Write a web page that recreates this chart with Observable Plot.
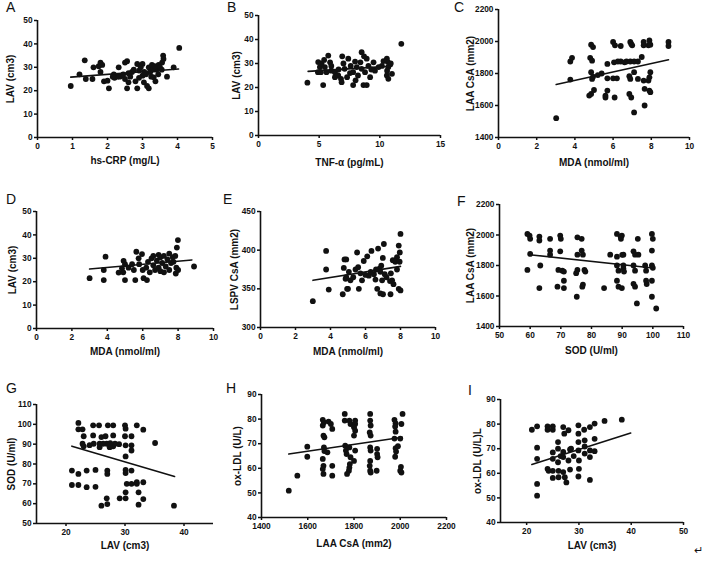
<!DOCTYPE html>
<html><head><meta charset="utf-8">
<script src="https://cdn.jsdelivr.net/npm/d3@7"></script>
<script src="https://cdn.jsdelivr.net/npm/@observablehq/plot@0.6"></script>
<style>
body{margin:0;background:#fff;}
#wrap{position:relative;width:709px;height:562px;overflow:hidden;background:#fff;font-family:"Liberation Sans",Arial,sans-serif;}
.letter{position:absolute;font-size:14px;line-height:14px;color:#111;}
svg{position:absolute;}
</style></head><body><div id="wrap"></div>
<script>
// ---------- data ----------
const panelA = [[0.95,22],[1.2,27],[1.35,33],[1.38,25],[1.57,25],[1.6,30],[1.8,32],[1.85,31],[1.9,24],[2.04,21],[1.8,28],[2.18,27],[2.28,26],[2.32,30],[2.42,26.4],[2.5,25],[2.56,32.6],[2.56,21],[2.6,23.6],[2.7,28],[2.8,24],[2.85,31.4],[2.85,21],[2.9,28.6],[3.0,31.4],[3.0,26.4],[3.04,23.6],[3.13,22],[3.18,21],[3.18,30],[3.22,28],[3.27,31],[3.32,25.7],[3.37,24],[3.4,29],[3.46,31],[3.56,32],[3.59,35],[3.6,33.6],[3.7,26],[3.89,30],[4.05,38.3],[2.0,24.3],[2.2,25.5],[2.35,26],[2.45,27],[2.65,26],[2.75,29],[2.95,30],[3.1,27],[3.25,26],[3.3,29],[3.45,27],[3.5,30],[2.9,25.5],[3.05,28],[2.15,26],[2.6,27.5],[1.75,30.5],[2.5,32],[3.35,30.5],[3.55,29]];
const panelB = [[4.03,22],[4.92,30.6],[5.06,28.5],[5.14,26.4],[5.33,21],[5.41,31.5],[5.75,33.3],[5.47,28.5],[5.6,26.4],[6.0,27],[6.3,26.4],[6.57,25],[6.8,23.6],[6.85,22.2],[6.9,33],[7.0,30],[7.1,27.8],[7.4,32],[7.54,26],[7.8,21],[7.96,30.8],[8.1,28.5],[8.2,25],[8.5,34.7],[8.65,21],[8.78,26.4],[8.92,32],[8.92,21],[9.06,29],[9.2,24.3],[9.48,30.5],[9.6,27],[10.17,29],[10.58,32],[10.66,30.6],[10.7,28.5],[10.58,25],[10.7,23.6],[11.0,25.7],[11.77,38.2],[4.9,26.4],[6.3,24.3],[7.3,24.3],[7.8,26.4],[8.4,30.5],[8.5,27.8],[9.9,28.5],[10.6,27],[5.2,30],[5.9,30.5],[6.6,27.5],[7.6,29],[8.7,33],[9.3,27.5],[10.3,31],[10.9,30],[8.0,23],[6.0,29]];
const panelC = [[3.02,1521],[3.76,1875],[3.85,1898],[3.76,1762],[4.85,1980],[4.95,1965],[4.8,1898],[4.9,1880],[4.85,1808],[4.9,1766],[4.75,1662],[4.85,1672],[5.0,1697],[4.95,1780],[5.4,1800],[5.2,1790],[5.7,1860],[5.7,1770],[5.7,1693],[5.6,1662],[5.6,1650],[6.0,1997],[6.1,1976],[6.05,1870],[6.0,1770],[6.08,1650],[6.2,1770],[6.4,1972],[6.4,1875],[6.25,1875],[6.7,1875],[6.6,1870],[6.9,1997],[6.95,1985],[7.0,1976],[6.9,1875],[6.85,1783],[6.9,1766],[6.85,1672],[6.95,1650],[7.1,1557],[7.1,1808],[7.1,1875],[7.3,1875],[7.3,1766],[7.5,1903],[7.6,1997],[7.6,1976],[7.6,1756],[7.65,1704],[7.65,1600],[7.9,2007],[7.85,1976],[7.95,1808],[7.9,1776],[7.85,1756],[7.9,1693],[7.95,1683],[7.95,1980],[8.9,1997],[8.9,1972]];
const panelD = [[3.0,21.5],[3.9,30.7],[3.8,25],[3.8,20.7],[4.64,23.9],[4.83,25.7],[4.92,28.9],[5.0,27.5],[5.0,20.7],[5.2,26],[5.4,27.5],[5.58,20.7],[5.64,32.8],[5.77,30],[5.8,27.5],[6.0,25],[6.05,21.5],[6.24,20.7],[5.96,31.8],[6.3,28.5],[6.5,30],[6.6,27],[6.7,25],[6.8,29],[6.9,31.5],[6.9,26],[7.0,30.5],[7.0,24.5],[7.1,28],[7.2,31],[7.3,26.5],[7.4,29.5],[7.5,32],[7.5,25],[7.6,28],[7.7,30.5],[7.74,28.5],[7.84,31],[7.93,34.6],[7.99,37.8],[7.87,23.5],[7.9,26],[8.0,25],[8.9,26.5],[6.2,26],[6.4,24],[5.5,25],[4.9,24],[6.6,31],[7.2,24]];
const panelE = [[2.99,334],[3.75,399],[3.75,375],[3.9,349],[4.7,343],[4.76,377],[4.8,388],[4.9,388],[4.86,363],[4.95,350],[5.05,372],[5.14,361],[5.43,375],[5.52,397],[5.58,378],[5.62,350],[5.71,370],[5.8,361],[5.9,386],[6.1,392],[6.19,367],[6.34,399],[6.48,369],[6.57,362],[6.67,350],[6.72,402],[6.8,376],[6.85,372],[6.95,361],[6.99,390],[7.05,408],[7.0,343],[7.1,369],[7.43,343],[7.45,370],[7.52,361],[7.56,387],[7.6,356],[7.8,391],[7.8,375],[7.9,406],[8.0,421],[7.96,397],[7.9,350],[8.0,348],[5.0,350],[6.0,368],[6.3,372],[6.9,380],[7.2,365],[7.7,385],[5.3,365],[6.6,375],[4.9,365],[7.95,385],[6.85,344],[7.4,360]];
const panelF = [[59.1,2007],[59.8,1996],[60,1975],[59.1,1771],[60,1876],[63,1990],[63,1964],[63.3,1800],[63,1652],[66.5,1975],[66.5,1898],[66.5,1871],[68.9,1661],[69.2,1771],[69.8,1996],[70,1975],[69.8,1893],[70.5,1766],[71,1760],[71,1700],[71,1652],[75.2,1595],[75.4,1985],[75.4,1871],[75.4,1771],[75,1750],[76.8,1975],[76.8,1898],[77.2,1871],[77,1661],[77.2,1675],[77.7,1771],[78,1760],[84.1,1652],[86.1,1871],[88.3,2007],[89.9,1996],[89.6,1975],[88.3,1858],[90.4,1871],[90.4,1800],[88.3,1800],[88.8,1766],[90.4,1780],[88.3,1700],[88.8,1661],[89.9,1652],[90.6,1760],[89.5,1990],[90,1870],[93.7,1893],[94.2,1871],[93.7,1800],[94.2,1766],[93.7,1680],[94.2,1661],[95.1,1975],[94.8,1551],[95.3,1871],[97.5,1800],[97.8,1766],[98,1678],[97.8,1700],[99.7,2007],[100,1975],[99.7,1898],[99.7,1800],[100,1785],[99.7,1700],[99.7,1595],[101.1,1518]];
const panelG = [[21,76.7],[21,69.4],[22.1,69.4],[22.1,75],[22.1,100.7],[22.1,97.5],[22.8,97.5],[23,94],[22.8,90.2],[23,88.9],[23.5,76.7],[23.5,68.3],[24.6,99.5],[24.6,94.4],[24.7,90.2],[25.6,99.5],[25.7,90.2],[25.7,88.5],[26,93.6],[26.7,94],[26.9,90.2],[27.4,88.5],[27.1,99.5],[28,99.5],[28,94.4],[27.7,88.9],[27,76.7],[27,75],[26.9,62.7],[27,59.8],[26,59],[28,88.9],[26.3,90.2],[28.3,90.2],[30,99.5],[30.1,97.8],[30,94],[30.1,89.4],[30.1,83.8],[30.1,77],[30.1,75.4],[30.3,70],[30.1,65.7],[30.1,62.7],[29.1,62.7],[31.1,94],[31.1,89.4],[31.1,86.8],[31.1,76.7],[31.1,70],[32,99.5],[32,70],[32.3,65.7],[32.3,59.5],[32,70.8],[33.1,97.3],[33.1,70.8],[33.1,62.3],[35.1,90.6],[38.3,59],[25,77],[25,68.5],[24,89.5],[29,90],[27.5,90.5]];
const panelH = [[1518,50.9],[1555,57],[1598,68.8],[1598,64.7],[1665,79.7],[1670,78.7],[1665,77.4],[1668,73.3],[1672,72.6],[1670,68.5],[1672,67],[1665,63.8],[1668,61],[1665,59.7],[1668,57.7],[1690,79],[1685,66.5],[1700,78],[1706,57],[1706,61],[1706,76],[1760,82.1],[1760,79.4],[1762,69.2],[1765,67.2],[1768,65.8],[1780,79.4],[1785,78],[1780,68.5],[1785,64.5],[1782,61.7],[1780,60.3],[1778,59],[1770,57.7],[1805,79.4],[1805,78],[1800,76.7],[1805,75.3],[1800,73.3],[1805,67.2],[1800,63],[1870,82.1],[1870,79.4],[1872,77.4],[1868,74.6],[1872,73.3],[1870,68.5],[1872,67.2],[1870,63],[1868,61],[1870,59],[1872,58.3],[1900,67.9],[1900,65.8],[1902,64.5],[1898,59],[1975,79.7],[1980,78.3],[1978,77],[1980,74.9],[1975,72.1],[1980,68.2],[1982,66.8],[1978,64.7],[1990,69],[2010,82.1],[2005,78],[2000,72.1],[2003,60.6],[2000,59],[2005,58.3]];
const panelI = [[21,77.7],[22,79.1],[22,70.4],[22,65.9],[22,55.7],[22,50.9],[24,79.1],[24,77.7],[25,79.1],[25,77.7],[24,61.8],[24.2,61],[25,68.5],[25,65.9],[25,61],[25,58.1],[26,72.7],[26,64.5],[26.1,61],[26.1,58.4],[27,78.8],[27.2,76.1],[27,68.7],[27,66.6],[27,60.5],[27.3,58.4],[27.6,56.3],[28,77.5],[28.3,69.7],[28.3,61.5],[28,65.2],[29.9,79.5],[29.9,76.1],[29.9,72.7],[29.9,69.3],[30,65.2],[30,61.8],[29.9,58.7],[31,77.7],[31.1,73.4],[31.1,70.9],[31.1,68],[32.1,69.3],[32.1,66.6],[32.1,78.8],[32.1,57.3],[33,80.2],[33,74],[33,69],[34.9,81.3],[38.2,81.8],[26.5,67],[28.5,70],[26,70],[29,67]];

// regression lines (end points)
const fitAX = [0.95, 4.03],  fitAY = [25.8, 29.3];
const fitBX = [4.09, 11.0],  fitBY = [26.7, 28.9];
const fitCX = [3.02, 8.9],   fitCY = [1731, 1886];
const fitDX = [3.0, 8.78],   fitDY = [25.4, 29.3];
const fitEX = [3.0, 8.0],    fitEY = [361, 379];
const fitFX = [59.8, 100],   fitFY = [1871, 1784];
const fitGX = [21, 38.4],    fitGY = [89, 73.7];
const fitHX = [1518, 2009],  fitHY = [65.8, 72.6];
const fitIX = [21, 39.9],    fitIY = [63.6, 76.4];

// tick values
const lavTicks = [0, 10, 20, 30, 40, 50];
const crpTicks = [0, 1, 2, 3, 4, 5];
const tnfTicks = [0, 5, 10, 15];
const mdaTicks = [0, 2, 4, 6, 8, 10];
const laaTicks = [1400, 1600, 1800, 2000, 2200];
const lspvTicks = [300, 350, 400, 450];
const sodXTicks = [50, 60, 70, 80, 90, 100, 110];
const lavGTicks = [20, 30, 40];
const sodYTicks = [50, 60, 70, 80, 90, 100, 110];
const oxTicks = [40, 50, 60, 70, 80, 90];
const lavITicks = [20, 30, 40, 50];

// ---------- layout ----------
const wrap = document.getElementById("wrap");
const INK = "#111";
const FONT = "'Liberation Sans', Arial, sans-serif";
function panel(c) {
  const pts = c.data.map(([x, y]) => ({x, y}));
  const fit = c.fitX.map((x, i) => ({x, y: c.fitY[i]}));
  const tickOpts = {tickSize: 3, strokeWidth: 1.5, label: null,
    tickFormat: d => String(d), fontSize: 8.3, fontWeight: "bold", fill: INK, stroke: INK};
  const svg = Plot.plot({
    width: c.w, height: c.h,
    marginLeft: c.ml, marginRight: c.mr, marginTop: c.mt, marginBottom: c.mb,
    style: {fontFamily: FONT, fontSize: "8.3px", fontWeight: "bold", color: INK, background: "transparent", overflow: "visible"},
    x: {domain: c.xDomain},
    y: {domain: c.yDomain},
    marks: [
      Plot.axisX({...tickOpts, tickPadding: 2.5, ticks: c.xTicks}),
      Plot.axisY({...tickOpts, tickPadding: 2, ticks: c.yTicks}),
      Plot.ruleY([c.yDomain[0]], {stroke: INK, strokeWidth: 1.6}),
      Plot.ruleX([c.xDomain[0]], {stroke: INK, strokeWidth: 1.6}),
      Plot.dot(pts, {x: "x", y: "y", r: 2.9, fill: INK}),
      Plot.line(fit, {x: "x", y: "y", stroke: INK, strokeWidth: 1.6}),
      Plot.text([c.xLabel], {frameAnchor: "bottom", dy: c.xLabDy, text: d => d, textAnchor: "middle", lineAnchor: "middle",
        fontSize: 10, fontWeight: "bold", fill: INK}),
      Plot.text([c.yLabel], {frameAnchor: "left", dx: c.yLabDx, rotate: -90, text: d => d, textAnchor: "middle", lineAnchor: "middle",
        fontSize: 10, fontWeight: "bold", fill: INK})
    ]
  });
  svg.style.left = c.left + "px";
  svg.style.top = c.top + "px";
  wrap.appendChild(svg);
  const L = document.createElement("div");
  L.className = "letter";
  L.textContent = c.letter;
  L.style.left = c.lx + "px";
  L.style.top = c.ly + "px";
  wrap.appendChild(L);
}

panel({letter: "A", lx: 6, ly: 0, data: panelA, fitX: fitAX, fitY: fitAY,
  left: 0, top: 0, w: 230, h: 175, ml: 37, mr: 18, mt: 20, mb: 38,
  xDomain: [0, 5], yDomain: [0, 50], xTicks: crpTicks, yTicks: lavTicks,
  xLabel: "hs-CRP (mg/L)", yLabel: "LAV (cm3)", xLabDy: 23, yLabDx: -27});
panel({letter: "B", lx: 227, ly: 0, data: panelB, fitX: fitBX, fitY: fitBY,
  left: 230, top: 0, w: 235, h: 175, ml: 28, mr: 25, mt: 15, mb: 40,
  xDomain: [0, 15], yDomain: [0, 50], xTicks: tnfTicks, yTicks: lavTicks,
  xLabel: "TNF-α (pg/mL)", yLabel: "LAV (cm3)", xLabDy: 27, yLabDx: -22});
panel({letter: "C", lx: 454, ly: 0, data: panelC, fitX: fitCX, fitY: fitCY,
  left: 465, top: 0, w: 244, h: 175, ml: 33, mr: 20, mt: 9, mb: 38,
  xDomain: [0, 10], yDomain: [1400, 2200], xTicks: mdaTicks, yTicks: laaTicks,
  xLabel: "MDA (nmol/ml)", yLabel: "LAA CsA (mm2)", xLabDy: 25, yLabDx: -28});
panel({letter: "D", lx: 6, ly: 192, data: panelD, fitX: fitDX, fitY: fitDY,
  left: 0, top: 180, w: 230, h: 185, ml: 36, mr: 17, mt: 31, mb: 37,
  xDomain: [0, 10], yDomain: [0, 50], xTicks: mdaTicks, yTicks: lavTicks,
  xLabel: "MDA (nmol/ml)", yLabel: "LAV (cm3)", xLabDy: 23, yLabDx: -23.5});
panel({letter: "E", lx: 223, ly: 192, data: panelE, fitX: fitEX, fitY: fitEY,
  left: 230, top: 180, w: 235, h: 185, ml: 30, mr: 30, mt: 31, mb: 38,
  xDomain: [0, 10], yDomain: [300, 450], xTicks: mdaTicks, yTicks: lspvTicks,
  xLabel: "MDA (nmol/ml)", yLabel: "LSPV CsA (mm2)", xLabDy: 24, yLabDx: -26});
panel({letter: "F", lx: 457, ly: 194, data: panelF, fitX: fitFX, fitY: fitFY,
  left: 465, top: 180, w: 244, h: 185, ml: 34, mr: 26, mt: 24, mb: 39,
  xDomain: [50, 110], yDomain: [1400, 2200], xTicks: sodXTicks, yTicks: laaTicks,
  xLabel: "SOD (U/ml)", yLabel: "LAA CsA (mm2)", xLabDy: 24, yLabDx: -29});
panel({letter: "G", lx: 6, ly: 381, data: panelG, fitX: fitGX, fitY: fitGY,
  left: 0, top: 370, w: 230, h: 192, ml: 36, mr: 17, mt: 34, mb: 39,
  xDomain: [15, 45], yDomain: [50, 110], xTicks: lavGTicks, yTicks: sodYTicks,
  xLabel: "LAV (cm3)", yLabel: "SOD (U/ml)", xLabDy: 22, yLabDx: -25});
panel({letter: "H", lx: 226, ly: 381, data: panelH, fitX: fitHX, fitY: fitHY,
  left: 230, top: 370, w: 235, h: 192, ml: 31, mr: 19, mt: 24, mb: 45,
  xDomain: [1400, 2200], yDomain: [40, 90], xTicks: laaTicks, yTicks: oxTicks,
  xLabel: "LAA CsA (mm2)", yLabel: "ox-LDL (U/L)", xLabDy: 26, yLabDx: -24});
panel({letter: "I", lx: 468, ly: 383, data: panelI, fitX: fitIX, fitY: fitIY,
  left: 465, top: 370, w: 244, h: 192, ml: 35, mr: 26, mt: 29, mb: 40,
  xDomain: [15, 50], yDomain: [40, 90], xTicks: lavITicks, yTicks: oxTicks,
  xLabel: "LAV (cm3)", yLabel: "ox-LDL (U/L)L", xLabDy: 23, yLabDx: -23});

const ret = document.createElement("div");
ret.className = "letter";
ret.style.fontSize = "11px";
ret.style.left = "694px";
ret.style.top = "543px";
ret.textContent = "↵";
wrap.appendChild(ret);
</script>
</body></html>
